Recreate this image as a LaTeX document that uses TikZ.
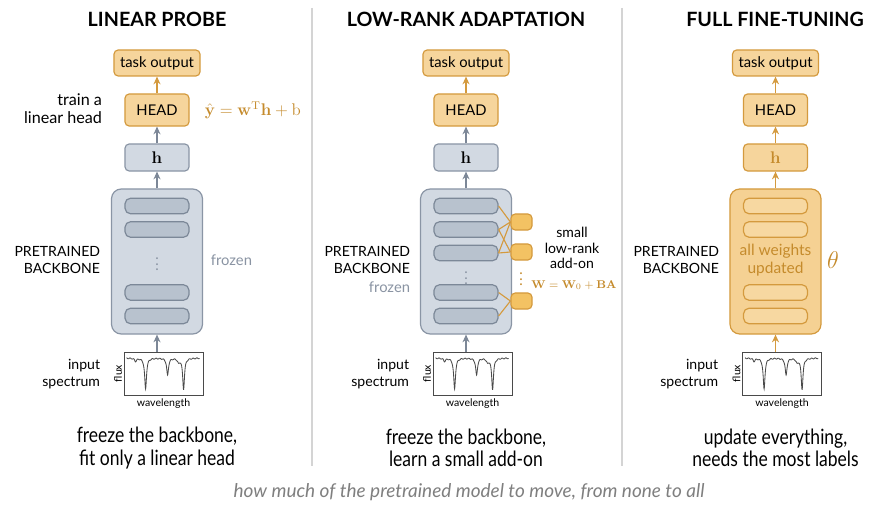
\documentclass[tikz,border=0pt]{standalone}
\usepackage{amsmath}
\usepackage[no-math]{fontspec}
\setmainfont{Lato}
\setsansfont{Lato}
\newfontfamily\condfont[FakeStretch=0.83]{Lato}
\usetikzlibrary{arrows.meta,positioning}

\definecolor{gfill}{HTML}{D2D9E2}
\definecolor{gdraw}{HTML}{8A95A5}
\definecolor{glayerfill}{HTML}{B8C2CE}
\definecolor{glayerdraw}{HTML}{7C8898}
\definecolor{ofill}{HTML}{F6D59C}
\definecolor{odraw}{HTML}{D49A3E}
\definecolor{obonefill}{HTML}{F5D193}
\definecolor{olayerfill}{HTML}{F7D8A1}
\definecolor{otext}{HTML}{C58B2C}
\definecolor{oadapt}{HTML}{F3C263}
\definecolor{arrgray}{HTML}{7C8797}
\definecolor{frozengray}{HTML}{8A94A3}
\definecolor{divgray}{HTML}{D4D4D4}
\definecolor{footgray}{HTML}{7F7F7F}
\definecolor{specgray}{HTML}{4A4A4A}

\begin{document}
\begin{tikzpicture}[
    x=0.025cm, y=-0.025cm,
    every node/.style={font=\fontsize{10.5}{12.5}\selectfont},
    title/.style={font=\fontsize{14}{16}\selectfont\bfseries},
    gbox/.style={rectangle, draw=gdraw, fill=gfill, line width=0.85pt, rounded corners=3pt, minimum width=1.6cm, inner sep=0pt},
    obox/.style={gbox, draw=odraw, fill=ofill},
    gbone/.style={rectangle, draw=gdraw, fill=gfill, line width=0.85pt, rounded corners=7pt, minimum width=2.275cm, minimum height=3.625cm},
    obone/.style={gbone, draw=odraw, fill=obonefill},
    glayer/.style={rectangle, draw=glayerdraw, fill=glayerfill, line width=0.85pt, rounded corners=4pt, minimum width=1.6cm, minimum height=0.39cm, inner sep=0pt},
    olayer/.style={glayer, draw=odraw, fill=olayerfill},
    adapter/.style={rectangle, draw=odraw, fill=oadapt, line width=0.85pt, rounded corners=3pt, minimum width=0.525cm, minimum height=0.4cm, inner sep=0pt},
    spec/.style={rectangle, draw=specgray, fill=white, line width=0.6pt, minimum width=1.975cm, minimum height=1.075cm, inner sep=0pt},
    lbl/.style={anchor=east, align=right, font=\fontsize{10}{12}\selectfont},
    vdots/.style={inner sep=0pt},
    tiny/.style={font=\fontsize{7.5}{9}\selectfont, inner sep=1pt},
    caption/.style={align=center, font=\condfont\fontsize{15}{16}\selectfont},
    garrow/.style={-{Stealth[length=5.5pt,width=5pt]}, draw=arrgray, line width=0.85pt},
    oarrow/.style={-{Stealth[length=5.5pt,width=5pt]}, draw=odraw, line width=0.85pt},
    tie/.style={draw=odraw, line width=0.8pt}
]
    % Canvas and dividers
    \useasboundingbox[fill=white] (0,0) rectangle (894,511);
    \draw[divgray, line width=0.8pt] (312,8) -- (312,466);
    \draw[divgray, line width=0.8pt] (622,8) -- (622,466);

    % Titles
    \node[title] (t1) at (157,19) {LINEAR PROBE};
    \node[title] (t2) at (466,19) {LOW-RANK ADAPTATION};
    \node[title] (t3) at (775,19) {FULL FINE-TUNING};

    % ---- Linear probe ----
    \node[obox, minimum width=2.15cm, minimum height=0.65cm] (out1) at (157,63) {task output};
    \node[obox, minimum height=0.8cm] (head1) at (157,110) {HEAD};
    \node[gbox, minimum height=0.675cm] (h1) at (157,157.5) {\fontsize{12}{14}\selectfont$\mathbf{h}$};
    \node[gbone] (bb1) at (157,261.5) {};
    \foreach \y/\n in {206/a, 229.5/b, 292.5/c, 316/d}
        \node[glayer] (l1\n) at (157,\y) {};
    \node[vdots, text=frozengray] (dots1) at (157,260) {$\vdots$};
    \node[lbl, font=\fontsize{11.5}{13}\selectfont] (tr1) at (107,109) {train a\\linear head};
    \node[anchor=west, text=otext, font=\fontsize{11.5}{14}\selectfont] (eq1) at (200,110) {$\hat{\mathbf{y}} = \mathbf{w}^{\mathrm{T}}\mathbf{h} + \mathrm{b}$};
    \node[lbl] (pb1) at (105,260) {PRETRAINED\\BACKBONE};
    \node[anchor=west, text=frozengray] (fz1) at (206,260) {frozen};
    \node[spec] (sp1) at (163.5,373.5) {};
    \node[lbl] (in1) at (105,374) {input\\spectrum};
    \draw[oarrow] (head1) -- (out1);
    \draw[garrow] (h1) -- (head1);
    \draw[garrow] (bb1) -- (h1);
    \draw[garrow] (sp1.north -| bb1.south) -- (bb1.south);
    \node[caption] (c1) at (157,448) {freeze the backbone,\\fit only a linear head};

    % ---- Low-rank adaptation ----
    \node[obox, minimum width=2.15cm, minimum height=0.65cm] (out2) at (466,63) {task output};
    \node[obox, minimum height=0.8cm] (head2) at (466,110) {HEAD};
    \node[gbox, minimum height=0.675cm] (h2) at (466,157.5) {\fontsize{12}{14}\selectfont$\mathbf{h}$};
    \node[gbone] (bb2) at (466,261.5) {};
    \foreach \y/\n in {206/a, 229.5/b, 253/c, 292.5/d, 316/e}
        \node[glayer] (l2\n) at (466,\y) {};
    \node[vdots, text=frozengray] (dots2) at (466,274) {$\vdots$};
    \node[adapter] (ad1) at (521.5,222) {};
    \node[adapter] (ad2) at (521.5,252) {};
    \node[adapter] (ad3) at (521.5,301) {};
    \node[vdots, text=otext] (dots2b) at (521,275) {$\vdots$};
    \draw[tie] (l2a.east) -- (ad1.west);
    \draw[tie] (l2b.east) -- (ad1.west);
    \draw[tie] (l2b.east) -- (ad2.west);
    \draw[tie] (l2c.east) -- (ad1.west);
    \draw[tie] (l2c.east) -- (ad2.west);
    \draw[tie] (l2d.east) -- (ad3.west);
    \draw[tie] (l2e.east) -- (ad3.west);
    \node[align=center, font=\fontsize{10}{11}\selectfont] (lr2) at (572,248) {small\\low-rank\\add-on};
    \node[text=otext, font=\fontsize{8}{10}\selectfont] (eq2) at (574,285) {$\mathbf{W} = \mathbf{W}_0 + \mathbf{BA}$};
    \node[lbl] (pb2) at (415,260) {PRETRAINED\\BACKBONE};
    \node[anchor=east, text=frozengray] (fz2) at (415,287) {frozen};
    \node[spec] (sp2) at (472.5,373.5) {};
    \node[lbl] (in2) at (414,374) {input\\spectrum};
    \draw[oarrow] (head2) -- (out2);
    \draw[garrow] (h2) -- (head2);
    \draw[garrow] (bb2) -- (h2);
    \draw[garrow] (sp2.north -| bb2.south) -- (bb2.south);
    \node[caption] (c2) at (466,448) {freeze the backbone,\\learn a small add-on};

    % ---- Full fine-tuning ----
    \node[obox, minimum width=2.15cm, minimum height=0.65cm] (out3) at (775.5,63) {task output};
    \node[obox, minimum height=0.8cm] (head3) at (775.5,110) {HEAD};
    \node[obox, minimum height=0.675cm, text=otext] (h3) at (775.5,157.5) {\fontsize{12}{14}\selectfont$\mathbf{h}$};
    \node[obone] (bb3) at (775.5,261.5) {};
    \foreach \y/\n in {206/a, 229.5/b, 292.5/c, 316/d}
        \node[olayer] (l3\n) at (775.5,\y) {};
    \node[align=center, text=otext, font=\fontsize{11}{12.5}\selectfont] (aw3) at (775.5,260) {all weights\\updated};
    \node[text=otext, font=\fontsize{16}{18}\selectfont] (th3) at (833,260) {$\theta$};
    \node[lbl] (pb3) at (724,260) {PRETRAINED\\BACKBONE};
    \node[spec] (sp3) at (782,373.5) {};
    \node[lbl] (in3) at (723,374) {input\\spectrum};
    \draw[oarrow] (head3) -- (out3);
    \draw[oarrow] (h3) -- (head3);
    \draw[oarrow] (bb3) -- (h3);
    \draw[oarrow] (sp3.north -| bb3.south) -- (bb3.south);
    \node[caption] (c3) at (775.5,448) {update everything,\\needs the most labels};

    % Spectra drawn inside the boxes
    \foreach \s in {sp1, sp2, sp3} {
        \begin{scope}[shift={(\s.north west)}]
            \draw[specgray, line width=0.6pt] plot[domain=3:76, samples=300]
                (\x, {6.5 + 31/(1+((\x-22)/1.1)^2) + 17/(1+((\x-44)/1.1)^2) + 31/(1+((\x-60)/1.1)^2)
                      + 3/(1+((\x-12)/1.2)^2) + 4/(1+((\x-55)/1.2)^2) + 0.5*sin(\x*97)});
        \end{scope}
        \node[tiny, rotate=90, anchor=south] at (\s.west) {flux};
        \node[tiny, below=1pt of \s] {wavelength};
    }

    % Footer
    \node[text=footgray, font=\fontsize{13.5}{15}\selectfont\itshape] (foot) at (469,492) {how much of the pretrained model to move, from none to all};
\end{tikzpicture}
\end{document}
